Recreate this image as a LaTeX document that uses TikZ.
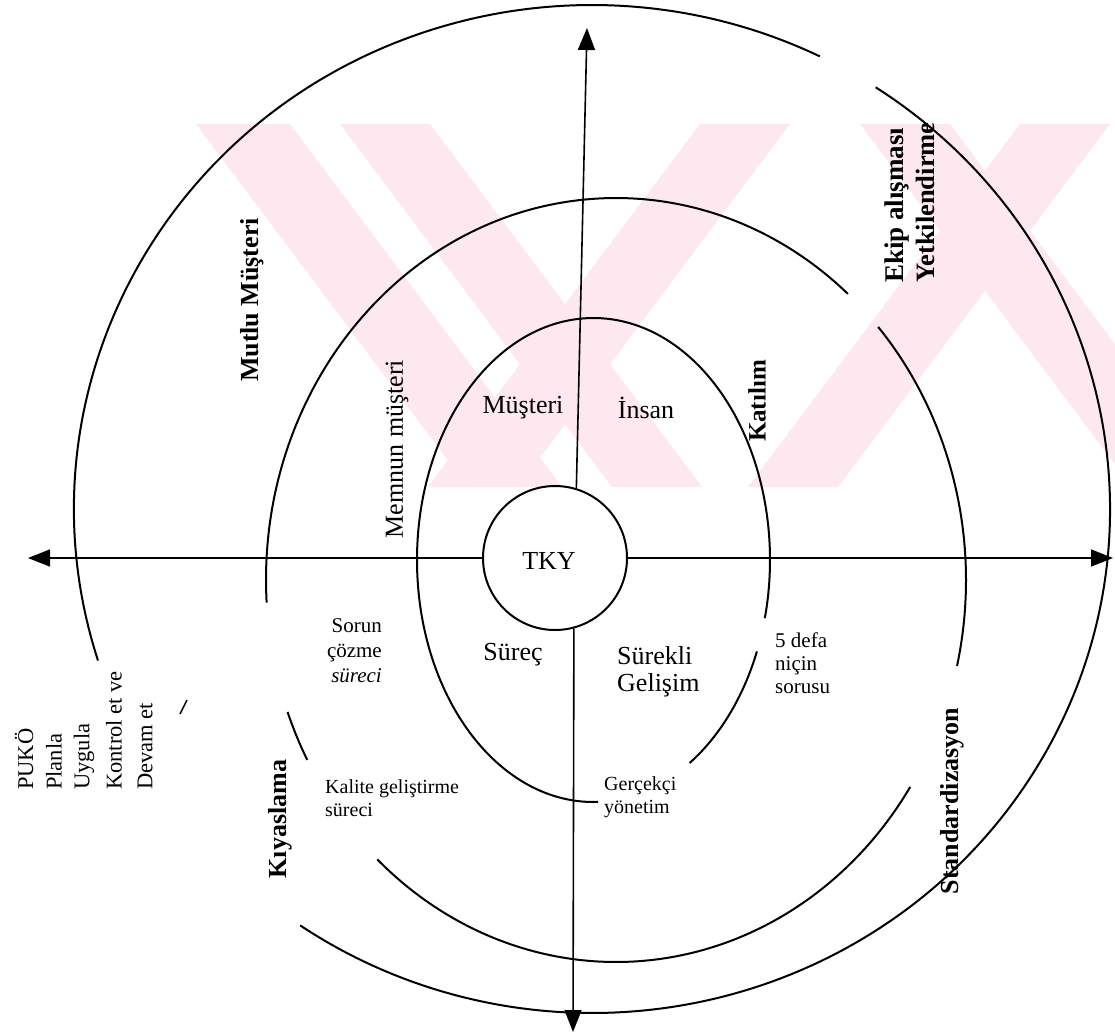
\documentclass[tikz,border=0pt]{standalone}
\usepackage{fontspec}
\setmainfont{Liberation Serif}
\usetikzlibrary{arrows.meta}
\definecolor{wmpink}{RGB}{252,232,238}
\begin{document}
\begin{tikzpicture}[x=1pt,y=-1pt,
  ring/.style={line width=2pt},
  axis/.style={line width=1.6pt,-{Triangle[width=17pt,length=22pt]}},
  txt/.style={inner sep=0pt,font=\fontsize{26}{28}\selectfont},
  small/.style={inner sep=0pt,font=\fontsize{21}{25}\selectfont},
  pdca/.style={inner sep=0pt,font=\fontsize{22.5}{25}\selectfont},
  note/.style={inner sep=0pt,font=\fontsize{20}{23}\selectfont,align=left},
  heavy/.style={inner sep=0pt,font=\fontsize{26}{28}\selectfont\bfseries},
  up/.style={rotate=90},
]
\useasboundingbox (0,0) rectangle (1115,1033);

% faint background stamp
\begin{scope}
  \clip (196,124) rectangle (1115,487);
  \fill[wmpink] (196,124) -- (290,124) -- (562,487) -- (468,487) -- cycle;
  \fill[wmpink] (340,124) -- (430,124) -- (702,487) -- (612,487) -- cycle;
  \fill[wmpink] (860,124) -- (950,124) -- (1222,487) -- (1132,487) -- cycle;
  \fill[wmpink] (700,124) -- (790,124) -- (518,487) -- (428,487) -- cycle;
  \fill[wmpink] (1020,124) -- (1110,124) -- (838,487) -- (748,487) -- cycle;
\end{scope}

% ring centres
\coordinate (cin)  at (593.5,560);
\coordinate (cmid) at (616,580);
\coordinate (cout) at (592,509);

% inner ring
\draw[ring] ([shift={(88.5:176.5 and 242)}]cin) arc[start angle=88.5,end angle=373.9,x radius=176.5,y radius=242];
\draw[ring] ([shift={(22.2:176.5 and 242)}]cin) arc[start angle=22.2,end angle=57,x radius=176.5,y radius=242];

% middle ring
\draw[ring] ([shift={(176.6:350 and 382)}]cmid) arc[start angle=176.6,end angle=311.5,x radius=350,y radius=382];
\draw[ring] ([shift={(318.5:350 and 382)}]cmid) arc[start angle=318.5,end angle=373,x radius=350,y radius=382];
\draw[ring] ([shift={(32.8:350 and 382)}]cmid) arc[start angle=32.8,end angle=133,x radius=350,y radius=382];
\draw[ring] ([shift={(151.9:350 and 382)}]cmid) arc[start angle=151.9,end angle=159.8,x radius=350,y radius=382];

% outer ring
\draw[ring] ([shift={(162.5:518 and 504)}]cout) arc[start angle=162.5,end angle=296.1,x radius=518,y radius=504];
\draw[ring] ([shift={(303.2:518 and 504)}]cout) arc[start angle=303.2,end angle=484.3,x radius=518,y radius=504];
\draw[line width=1.4pt] (180,714) -- (187,700);

% centre and axes
\node[circle,draw,ring,minimum size=144pt,inner sep=0pt] (tky) at (555,558) {};
\node[txt] (tkytext) at (549,561) {TKY};
\coordinate (ntip) at (587,28);
\coordinate (stip) at (573,1032);
\coordinate (wtip) at (28,558);
\coordinate (etip) at (1113,558);
\draw[axis] (tky.73) -- (ntip);
\draw[axis] (tky.-75) -- (stip);
\draw[axis] (tky.west) -- (wtip);
\draw[axis] (tky.east) -- (etip);

% quadrant labels
\node[txt] (musteri) at (523,408) {Müşteri};
\node[txt] (insan) at (646,408) {İnsan};
\node[txt] (surec) at (513,655) {Süreç};
\node[txt,align=left,anchor=west] (surekli) at (617,672) {Sürekli\\[-1pt]Gelişim};

% ring labels
\node[heavy,up] (mutlu) at (252,300) {Mutlu Müşteri};
\node[txt,up] (memnun) at (397,449) {Memnun müşteri};
\node[heavy,up,font=\fontsize{25}{28}\selectfont\bfseries] (katilim) at (757,401) {Katılım};
\node[heavy,up,anchor=west,font=\fontsize{27}{28}\selectfont\bfseries] (ekip) at (897,283) {Ekip alışması};
\node[heavy,up,anchor=west,font=\fontsize{26.5}{28}\selectfont\bfseries] (yetki) at (925,283) {Yetkilendirme};
\node[heavy,up] (standart) at (952,801) {Standardizasyon};
\node[heavy,up] (kiyas) at (280,819) {Kıyaslama};

% tools
\node[small,align=right,anchor=east] (sorun) at (382,651) {Sorun\\çözme\\\textit{süreci}};
\node[small,align=left,anchor=west,font=\fontsize{21}{23}\selectfont] (defa) at (775,663) {5 defa\\niçin\\sorusu};
\node[note,anchor=west] (kalite) at (325,798) {Kalite geliştirme\\süreci};
\node[note,anchor=west] (gercek) at (604,797) {Gerçekçi\\yönetim};

% PUKO cycle
\node[pdca,up,anchor=west] (puko) at (24,790) {PUKÖ};
\node[pdca,up,anchor=west] (planla) at (54,790) {Planla};
\node[pdca,up,anchor=west] (uygula) at (84,790) {Uygula};
\node[pdca,up,anchor=west] (kontrol) at (114,790) {Kontrol et ve};
\node[pdca,up,anchor=west] (devam) at (145,790) {Devam et};
\end{tikzpicture}
\end{document}
